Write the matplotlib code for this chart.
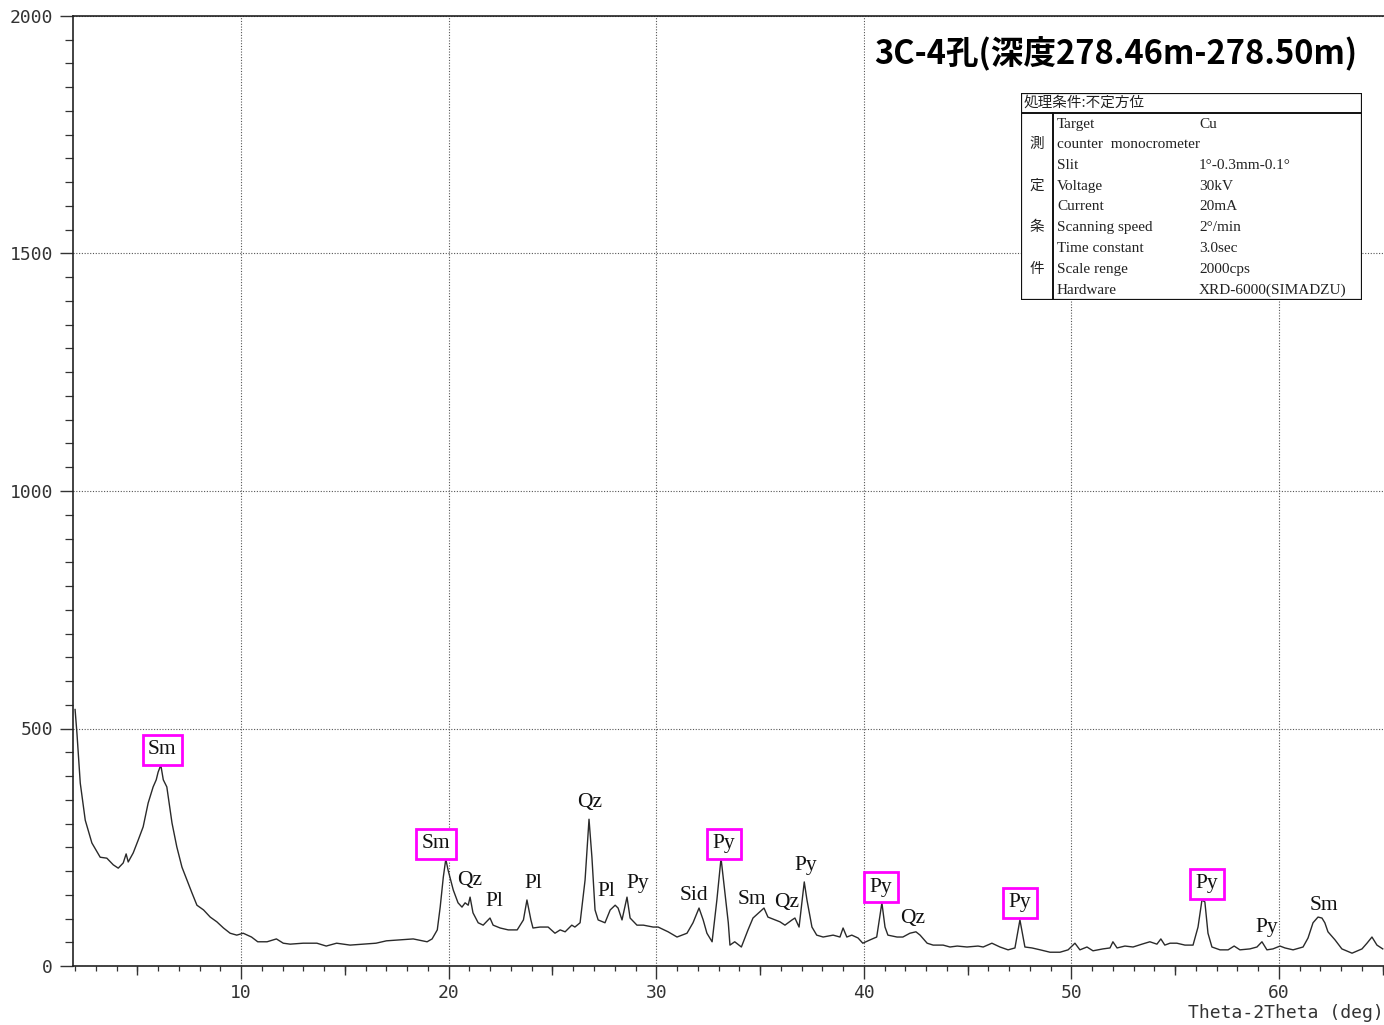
import matplotlib
matplotlib.use("Agg")
import matplotlib.pyplot as plt
from matplotlib.patches import Rectangle
from matplotlib.ticker import MultipleLocator, FixedLocator

# XRD scan, 2theta (deg) vs intensity (cps)
two_theta = [
    2.0, 2.09, 2.25, 2.49, 2.81, 3.21, 3.53, 3.84, 4.08, 4.32, 4.46, 4.56, 4.8, 5.04,
    5.28, 5.52, 5.76, 5.91, 6.0, 6.13, 6.25, 6.42, 6.67, 6.9, 7.15, 7.39, 7.63, 7.87,
    8.19, 8.51, 8.83, 9.15, 9.47, 9.79, 10.1, 10.5, 10.8, 11.25, 11.7, 12.03,
    12.36, 12.99, 13.65, 14.1, 14.6, 15.25, 15.88, 16.5, 17.0, 17.66, 18.29, 18.96,
    19.2, 19.45, 19.59, 19.74, 19.86, 19.97, 20.22, 20.45, 20.64, 20.79, 20.94, 21.03,
    21.17, 21.42, 21.66, 21.99, 22.14, 22.48, 22.87,
    23.3, 23.6, 23.77, 23.96, 24.06, 24.4, 24.79, 25.12, 25.37, 25.61, 25.93, 26.08,
    26.33, 26.57, 26.76, 26.9, 27.05, 27.2, 27.53, 27.78, 28.02, 28.16, 28.35, 28.59,
    28.74, 29.07, 29.38, 29.85, 30.09, 30.57, 31.0, 31.48, 31.77, 32.06, 32.26, 32.44,
    32.69, 32.92, 33.12, 33.31, 33.47,
    33.55, 33.78, 34.1, 34.42, 34.66, 34.99, 35.19, 35.38, 35.72, 35.96, 36.2, 36.54,
    36.68, 36.88, 37.13, 37.26, 37.5, 37.73, 38.04, 38.52, 38.85, 39.0, 39.18, 39.42,
    39.72, 39.95, 40.3, 40.62, 40.87, 41.02, 41.16, 41.6, 41.88, 42.22, 42.51, 42.71,
    43.05, 43.34, 43.82, 44.15,
    44.5, 44.97, 45.5, 45.75, 46.17, 46.56, 46.95, 47.28, 47.52, 47.76, 48.1, 48.5,
    48.97, 49.45, 49.84, 50.17, 50.41, 50.75, 51.04, 51.52, 51.86, 52.0, 52.2, 52.58,
    52.97, 53.4, 53.78, 54.12, 54.31, 54.5, 54.75,
    55.08, 55.47, 55.86, 56.1, 56.29, 56.43, 56.58, 56.77, 57.16, 57.55, 57.84, 58.12,
    58.6, 58.94, 59.18, 59.42, 59.71, 60.05, 60.29, 60.68, 61.16, 61.4, 61.64, 61.88,
    62.07, 62.21, 62.36, 62.7, 63.03, 63.52, 64.0, 64.24, 64.48, 64.72, 65.0,
]
counts = [
    540, 490, 385, 307, 259, 229, 227, 213, 206, 217, 236, 219, 238, 265,
    293, 343, 377, 392, 408, 423, 392, 377, 301, 251, 208, 181, 154, 128,
    118, 103, 93, 80, 69, 65, 69, 61, 51, 51, 57, 48,
    46, 48, 48, 42, 48, 44, 46, 48, 53, 55, 57, 51,
    57, 76, 124, 187, 225, 202, 160, 133, 124, 133, 128, 145,
    112, 91, 86, 101, 86, 80, 76,
    76, 97, 139, 97, 80, 82, 82, 69, 76, 72, 86, 82,
    91, 181, 309, 229, 118, 97, 91, 118, 128, 122, 97, 145,
    101, 86, 86, 82, 82, 72, 61, 69, 91, 122, 97, 69,
    51, 139, 227, 154, 91,
    44, 51, 40, 76, 101, 114, 122, 103, 97, 93, 86, 97,
    101, 82, 177, 139, 82, 65, 61, 65, 61, 80, 61, 65,
    59, 48, 55, 61, 133, 82, 65, 61, 61, 69, 72, 65,
    48, 44, 44, 40,
    42, 40, 42, 40, 48, 40, 34, 38, 97, 40, 38, 34,
    29, 29, 34, 48, 34, 40, 32, 36, 38, 51, 38, 42,
    40, 46, 51, 46, 57, 44, 48,
    48, 44, 44, 82, 139, 135, 69, 40, 34, 34, 42, 34,
    36, 40, 51, 34, 36, 42, 38, 34, 40, 59, 91, 103,
    101, 91, 72, 55, 36, 27, 36, 48, 61, 44, 36,
]

# mineral labels: text, position, boxed or not
peak_names = ["Sm", "Sm", "Qz", "Pl", "Pl", "Qz", "Pl", "Py", "Sid", "Py", "Sm", "Qz",
              "Py", "Py", "Qz", "Py", "Py", "Py", "Sm"]
peak_x = [6.2, 19.39, 21.0, 22.2, 24.1, 26.8, 27.6, 29.1, 31.8, 33.27, 34.6, 36.3,
          37.2, 40.83, 42.37, 47.52, 56.53, 59.4, 62.17]
peak_y = [455, 257, 181, 135, 173, 345, 156, 173, 149, 257, 139, 133,
          211, 166, 101, 133, 173, 82, 128]
peak_boxed = [True, True, False, False, False, False, False, False, False, True, False,
              False, False, True, False, True, True, False, False]

title = "3C-4孔(深度278.46m-278.50m)"
table_header = "処理条件:不定方位"
side_label = ["測", "定", "条", "件"]
cond_names = ["Target", "counter  monocrometer", "Slit", "Voltage", "Current",
              "Scanning speed", "Time constant", "Scale renge", "Hardware"]
cond_values = ["Cu", "", "1°-0.3mm-0.1°", "30kV", "20mA", "2°/min", "3.0sec",
               "2000cps", "XRD-6000(SIMADZU)"]

W, H = 1384, 1025
fig = plt.figure(figsize=(W / 100, H / 100), dpi=100)
ax = fig.add_axes([73 / W, 1 - 966 / H, (W - 73) / W, (966 - 16) / H])
ax.set_axisbelow(True)

ax.plot(two_theta, counts, color="#2a2a2a", lw=1.0, zorder=2)
ax.set_xlim(1.9, 65.06)
ax.set_ylim(0, 2000)

mono = "DejaVu Sans Mono"
ax.xaxis.set_major_locator(MultipleLocator(10))
ax.xaxis.set_minor_locator(MultipleLocator(1))
ax.yaxis.set_major_locator(MultipleLocator(500))
ax.yaxis.set_minor_locator(MultipleLocator(50))
ax.tick_params(axis="x", which="major", length=9, width=1.0, pad=4,
               labelsize=13, colors="#333333")
ax.tick_params(axis="x", which="minor", length=3.6, width=0.9, color="#333333")
ax.tick_params(axis="y", which="major", length=9.5, width=1.0, pad=5,
               labelsize=13, colors="#333333")
ax.tick_params(axis="y", which="minor", length=6, width=0.9, color="#333333")
for lab in ax.get_xticklabels() + ax.get_yticklabels():
    lab.set_family(mono)
ax.set_xticks([10, 20, 30, 40, 50, 60])

# medium ticks every 5 deg
sec = ax.secondary_xaxis("bottom")
sec.xaxis.set_major_locator(FixedLocator([5, 15, 25, 35, 45, 55, 65]))
sec.tick_params(length=6.5, width=1.0, labelbottom=False, color="#333333")
sec.spines["bottom"].set_visible(False)

ax.grid(True, which="major", color="#555555", lw=0.8, ls=(0, (1, 1.5)))
for side in ["left", "bottom", "top"]:
    ax.spines[side].set_linewidth(1.2)
    ax.spines[side].set_color("#222222")
ax.spines["right"].set_visible(False)

ax.text(1.0, -0.05, "Theta-2Theta (deg)", transform=ax.transAxes, ha="right",
        va="center", family=mono, fontsize=13, color="#333333")

# blank strip behind the title
ax.add_patch(Rectangle((0.604, 0.917), 0.396, 0.081, transform=ax.transAxes,
                       facecolor="white", edgecolor="none", zorder=1))
fig.text(1357 / W, 1 - 54 / H, title, ha="right", va="center", fontsize=23.5,
         fontweight="bold", family=["Noto Sans CJK JP", "DejaVu Sans"])

for name, x, y, boxed in zip(peak_names, peak_x, peak_y, peak_boxed):
    kw = {}
    if boxed:
        kw["bbox"] = dict(boxstyle="square,pad=0.25", fc="white", ec="#ff00ff", lw=2)
    ax.text(x, y, name, ha="center", va="center", fontsize=15.5,
            family="Liberation Serif", color="#111111", zorder=3, **kw)

# measurement condition table
tab = fig.add_axes([1021 / W, 1 - 300 / H, 341 / W, 207 / H])
tab.set_xlim(0, 341)
tab.set_ylim(207, 0)
tab.axis("off")
tab.add_patch(Rectangle((0, 0), 341, 207, facecolor="white", edgecolor="#111111", lw=1.6))
tab.plot([0, 341], [20, 20], color="#111111", lw=1.4)
tab.plot([32, 32], [20, 207], color="#111111", lw=1.4)
serif = ["Liberation Serif", "Noto Sans CJK JP"]
tab.text(3, 10, table_header, ha="left", va="center", fontsize=10.5,
         family=["Noto Sans CJK JP", "DejaVu Sans"], color="#222222")
for i, ch in enumerate(side_label):
    tab.text(16, 51 + i * 41.7, ch, ha="center", va="center", fontsize=10.5,
             family=["Noto Sans CJK JP", "DejaVu Sans"], color="#222222")
for i, (nm, val) in enumerate(zip(cond_names, cond_values)):
    yy = 31 + i * 20.75
    tab.text(36, yy, nm, ha="left", va="center", fontsize=11, family=serif, color="#222222")
    tab.text(178, yy, val, ha="left", va="center", fontsize=11, family=serif, color="#222222")

fig.savefig("out.png", dpi=100)
